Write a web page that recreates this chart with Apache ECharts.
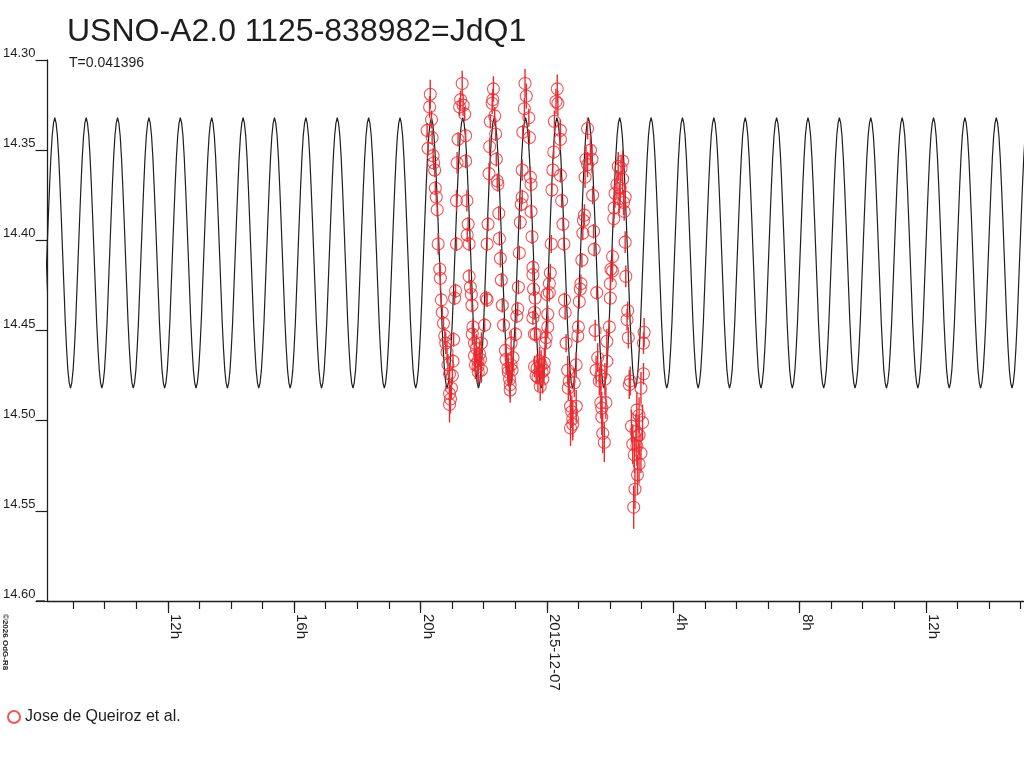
<!DOCTYPE html>
<html>
<head>
<meta charset="utf-8">
<script src="https://cdn.jsdelivr.net/npm/echarts@6/dist/echarts.min.js"></script>
<style>
  html, body { margin: 0; padding: 0; background: #fff; }
  #chart { width: 1024px; height: 768px; }
</style>
</head>
<body>
<div id="chart"></div>
<script>
var titleText = 'USNO-A2.0 1125-838982=JdQ1';
var periodDays = 0.041396;
var seriesName = 'Jose de Queiroz et al.';

// hours from 2015-12-07 00:00
var axisMinHour = -15.806;
var axisMaxHour = 15.106;
var hourTicks = [-15,-14,-13,-12,-11,-10,-9,-8,-7,-6,-5,-4,-3,-2,-1,0,1,2,3,4,5,6,7,8,9,10,11,12,13,14,15];
var labelHours = [-12, -8, -4, 0, 4, 8, 12];
var labelTexts = ['12h', '16h', '20h', '2015-12-07', '4h', '8h', '12h'];
var magTicks = [14.30, 14.35, 14.40, 14.45, 14.50, 14.55, 14.60];

// model light curve: one cycle, brightest at peakHour
var peakHour = 0.32;
var curveProfile = [14.332, 14.335, 14.342, 14.354, 14.370, 14.388, 14.407, 14.426,
                    14.445, 14.460, 14.472, 14.479, 14.482, 14.479, 14.472, 14.460,
                    14.445, 14.426, 14.407, 14.388, 14.370, 14.354, 14.342, 14.335];

// observations (hour, magnitude, error), grouped by cycle
var obsHours = [
  -3.69,-3.71,-3.65,-3.79,-3.63,-3.76,-3.60,-3.58,-3.55,-3.53,-3.50,-3.47,-3.44,-3.39,-3.37,-3.34,
  -3.31,-3.27,-3.23,-2.95,-3.20,-3.16,-2.97,-3.13,-3.08,-2.99,-3.02,-3.08,-3.05,-3.08,
  -2.68,-2.73,-2.76,-2.65,-2.60,-2.57,-2.81,-2.57,-2.84,-2.86,-2.53,-2.49,-2.52,-2.46,-2.86,-2.46,-2.42,-2.89,-2.92,
  -2.39,-2.37,-2.34,-2.36,-2.29,-2.07,-2.23,-2.13,-2.18,-2.18,-2.07,-2.26,-2.17,-2.10,-2.29,
  -1.89,-1.97,-1.69,-1.71,-1.73,-1.65,-1.79,-1.62,-1.81,-1.60,-1.83,-1.57,-1.55,-1.52,-1.86,-1.50,-1.89,-1.47,-1.44,-1.92,
  -1.41,-0.92,-0.95,-1.37,-0.99,-1.31,-1.13,-1.29,-1.07,-1.23,-1.10,-1.18,-1.16,-1.22,-1.13,-1.16,
  -0.69,-0.65,-0.71,-0.57,-0.76,-0.55,-0.78,-0.52,-0.50,-0.78,-0.81,-0.50,-0.84,-0.47,-0.87,-0.44,-0.44,-0.90,-0.42,
  -0.44,-0.39,-0.39,-0.34,-0.37,-0.39,-0.34,-0.23,-0.31,-0.28,-0.13,-0.08,-0.09,-0.05,-0.02,0.03,0.01,0.03,-0.18,-0.21,-0.15,
  0.33,0.29,0.35,0.24,0.43,0.43,0.22,0.19,0.43,0.16,0.47,0.51,0.14,0.54,0.11,0.08,0.08,0.56,
  1.03,0.58,1.00,0.98,0.61,0.93,0.66,0.87,0.71,0.68,0.93,0.75,0.79,0.82,0.75,0.82,
  1.29,1.38,1.24,1.43,1.29,1.21,1.45,1.19,1.16,1.48,1.14,1.50,1.11,1.08,1.06,1.58,
  2.01,1.98,1.53,1.90,1.61,1.90,1.56,1.71,1.84,1.66,1.71,1.87,1.74,1.74,1.77,1.82,
  2.40,2.26,2.35,2.40,2.22,2.32,2.16,2.48,2.29,2.43,2.13,2.45,2.12,2.48,2.08,2.03,2.08,2.50,2.01,
  2.56,2.54,2.58,3.08,3.06,3.06,2.64,2.61,2.98,2.85,2.92,3.03,2.68,2.92,2.82,2.72,2.85,2.98,2.77,2.92,2.87,2.79,2.75
];
var obsMag = [
  14.319,14.326,14.333,14.339,14.343,14.349,14.353,14.357,14.361,14.371,14.376,14.383,14.402,14.416,14.421,14.433,
  14.440,14.446,14.453,14.455,14.457,14.462,14.467,14.469,14.474,14.475,14.482,14.485,14.488,14.491,
  14.313,14.322,14.326,14.325,14.330,14.342,14.344,14.356,14.357,14.378,14.378,14.391,14.397,14.402,14.402,14.420,14.426,14.428,14.432,
  14.430,14.436,14.448,14.452,14.457,14.457,14.460,14.463,14.467,14.470,14.472,14.469,14.473,14.466,14.464,
  14.433,14.447,14.316,14.322,14.324,14.331,14.334,14.341,14.348,14.355,14.363,14.367,14.369,14.385,14.391,14.399,14.402,14.410,14.422,14.432,
  14.436,14.438,14.442,14.447,14.452,14.461,14.457,14.466,14.465,14.471,14.472,14.477,14.480,14.473,14.469,14.483,
  14.313,14.320,14.327,14.332,14.340,14.343,14.361,14.365,14.369,14.376,14.380,14.384,14.390,14.398,14.407,14.415,14.419,14.426,14.427,
  14.443,14.452,14.470,14.475,14.432,14.440,14.452,14.467,14.471,14.476,14.477,14.468,14.472,14.457,14.454,14.448,14.430,14.441,14.469,14.481,14.473,
  14.316,14.323,14.324,14.334,14.339,14.344,14.351,14.361,14.364,14.372,14.378,14.391,14.402,14.402,14.418,14.424,14.429,14.433,
  14.434,14.440,14.448,14.453,14.457,14.469,14.472,14.479,14.478,14.482,14.492,14.492,14.495,14.499,14.504,14.502,
  14.338,14.350,14.355,14.355,14.358,14.365,14.375,14.386,14.389,14.395,14.396,14.405,14.411,14.424,14.427,14.429,
  14.432,14.448,14.450,14.456,14.465,14.467,14.472,14.475,14.477,14.478,14.490,14.490,14.493,14.498,14.507,14.512,
  14.356,14.359,14.360,14.366,14.369,14.371,14.374,14.376,14.377,14.379,14.382,14.384,14.388,14.401,14.409,14.416,14.417,14.420,14.424,
  14.439,14.444,14.454,14.451,14.457,14.474,14.478,14.480,14.482,14.494,14.497,14.501,14.503,14.508,14.506,14.513,14.514,14.518,14.519,14.524,14.530,14.538,14.548
];
var obsErr = [
  0.008,0.006,0.005,0.004,0.004,0.004,0.004,0.004,0.004,0.004,0.004,0.004,0.006,0.004,0.007,0.004,
  0.004,0.004,0.005,0.004,0.006,0.006,0.004,0.006,0.006,0.005,0.006,0.005,0.008,0.010,
  0.007,0.005,0.005,0.006,0.004,0.004,0.004,0.004,0.006,0.006,0.006,0.004,0.004,0.004,0.004,0.004,0.004,0.004,0.004,
  0.004,0.004,0.005,0.006,0.008,0.006,0.008,0.007,0.008,0.006,0.007,0.008,0.007,0.006,0.008,
  0.004,0.004,0.007,0.006,0.006,0.005,0.004,0.004,0.005,0.004,0.006,0.004,0.004,0.004,0.004,0.004,0.004,0.005,0.004,0.004,
  0.004,0.004,0.004,0.004,0.004,0.006,0.007,0.008,0.006,0.008,0.007,0.008,0.008,0.008,0.007,0.007,
  0.008,0.007,0.006,0.005,0.004,0.004,0.006,0.006,0.004,0.004,0.004,0.004,0.004,0.004,0.004,0.004,0.004,0.004,0.004,
  0.004,0.004,0.006,0.005,0.004,0.004,0.005,0.008,0.008,0.008,0.008,0.008,0.008,0.008,0.006,0.006,0.004,0.005,0.008,0.008,0.008,
  0.008,0.007,0.007,0.006,0.006,0.006,0.004,0.004,0.004,0.004,0.004,0.004,0.005,0.004,0.005,0.006,0.005,0.004,
  0.004,0.004,0.004,0.004,0.005,0.007,0.008,0.008,0.008,0.007,0.009,0.009,0.009,0.010,0.010,0.009,
  0.006,0.008,0.007,0.008,0.007,0.006,0.005,0.006,0.005,0.004,0.004,0.004,0.004,0.005,0.004,0.004,
  0.004,0.005,0.006,0.007,0.008,0.008,0.008,0.008,0.009,0.008,0.009,0.009,0.009,0.010,0.011,0.011,
  0.006,0.008,0.007,0.008,0.008,0.009,0.008,0.006,0.008,0.007,0.006,0.005,0.005,0.006,0.005,0.005,0.006,0.006,0.005,
  0.005,0.006,0.006,0.008,0.006,0.006,0.008,0.008,0.009,0.010,0.010,0.010,0.009,0.011,0.010,0.011,0.011,0.011,0.010,0.011,0.011,0.011,0.012
];

var red = '#ec2a2f';
var ink = '#1e1e1e';
var font = 'Liberation Sans, Arial, sans-serif';

var periodHours = periodDays * 24;
var curve = [];
for (var k = -17; k <= 15; k++) {
    for (var j = 0; j < curveProfile.length; j++) {
        curve.push([peakHour + (k + j / curveProfile.length) * periodHours, curveProfile[j]]);
    }
}

var obs = [];
for (var i = 0; i < obsHours.length; i++) {
    obs.push([obsHours[i], obsMag[i], obsErr[i]]);
}

var myChart = echarts.init(document.getElementById('chart'));

var option = {
    animation: false,
    backgroundColor: '#fff',
    textStyle: { fontFamily: font },
    title: [
        { text: titleText, left: 62, top: 11,
          textStyle: { fontSize: 32, fontWeight: 'normal', color: ink, fontFamily: font } },
        { text: 'T=' + periodDays, left: 64, top: 51,
          textStyle: { fontSize: 14, fontWeight: 'normal', color: ink, fontFamily: font } }
    ],
    legend: {
        data: [seriesName],
        left: 2,
        top: 704,
        itemWidth: 12,
        itemHeight: 12,
        itemGap: 4,
        textStyle: { fontSize: 16, color: ink, fontFamily: font }
    },
    grid: { left: 45, right: 0, top: 60, bottom: 167, containLabel: false },
    xAxis: [
        {
            type: 'value', position: 'bottom',
            min: axisMinHour, max: axisMaxHour,
            axisLine: { onZero: false, lineStyle: { color: ink, width: 1.3 } },
            axisTick: { customValues: hourTicks, length: 8, lineStyle: { color: ink, width: 1.2 } },
            axisLabel: { show: false },
            splitLine: { show: false }
        },
        {
            type: 'value', position: 'bottom',
            min: axisMinHour, max: axisMaxHour,
            axisLine: { show: false, onZero: false },
            axisTick: { customValues: labelHours, length: 12, lineStyle: { color: ink, width: 1.2 } },
            axisLabel: {
                customValues: labelHours,
                rotate: -90,
                margin: 13,
                verticalAlign: 'bottom',
                fontSize: 15,
                color: ink,
                fontFamily: font,
                formatter: function (v) {
                    var idx = labelHours.indexOf(Math.round(v));
                    return idx >= 0 ? labelTexts[idx] : '';
                }
            },
            splitLine: { show: false }
        }
    ],
    yAxis: {
        type: 'value',
        position: 'left',
        inverse: true,
        min: magTicks[0],
        max: magTicks[magTicks.length - 1],
        interval: 0.05,
        axisLine: { show: true, onZero: false, lineStyle: { color: ink, width: 1.3 } },
        axisTick: { show: true, length: 12, lineStyle: { color: ink, width: 1.2 } },
        axisLabel: {
            margin: 12,
            verticalAlign: 'bottom',
            fontSize: 13,
            color: ink,
            fontFamily: font,
            formatter: function (v) { return v.toFixed(2); }
        },
        splitLine: { show: false }
    },
    graphic: [
        { type: 'line', shape: { x1: 36, y1: 601, x2: 45, y2: 601 },
          style: { stroke: ink, lineWidth: 1.3 } },
        { type: 'text', x: 1, y: 614, rotation: -Math.PI / 2,
          style: { text: '\u00a92026 OdG-R8', fontSize: 8, fontWeight: 'bold', fill: ink,
                   fontFamily: font, align: 'left', verticalAlign: 'bottom' } }
    ],
    series: [
        {
            name: 'model',
            type: 'line',
            data: curve,
            showSymbol: false,
            silent: true,
            clip: true,
            z: 1,
            lineStyle: { color: ink, width: 1.2 }
        },
        {
            name: 'errors',
            type: 'custom',
            data: obs,
            z: 2,
            encode: { x: 0, y: 1 },
            renderItem: function (params, api) {
                var t = api.value(0);
                var m = api.value(1);
                var e = api.value(2);
                var p1 = api.coord([t, m - e]);
                var p2 = api.coord([t, m + e]);
                return {
                    type: 'line',
                    shape: { x1: p1[0], y1: p1[1], x2: p2[0], y2: p2[1] },
                    style: { stroke: red, lineWidth: 1.4 }
                };
            }
        },
        {
            name: seriesName,
            type: 'scatter',
            data: obs,
            z: 3,
            symbol: 'circle',
            symbolSize: 12,
            itemStyle: { color: 'rgba(255,255,255,0)', borderColor: red, borderWidth: 1.1 }
        }
    ]
};
myChart.setOption(option);
</script>
</body>
</html>
